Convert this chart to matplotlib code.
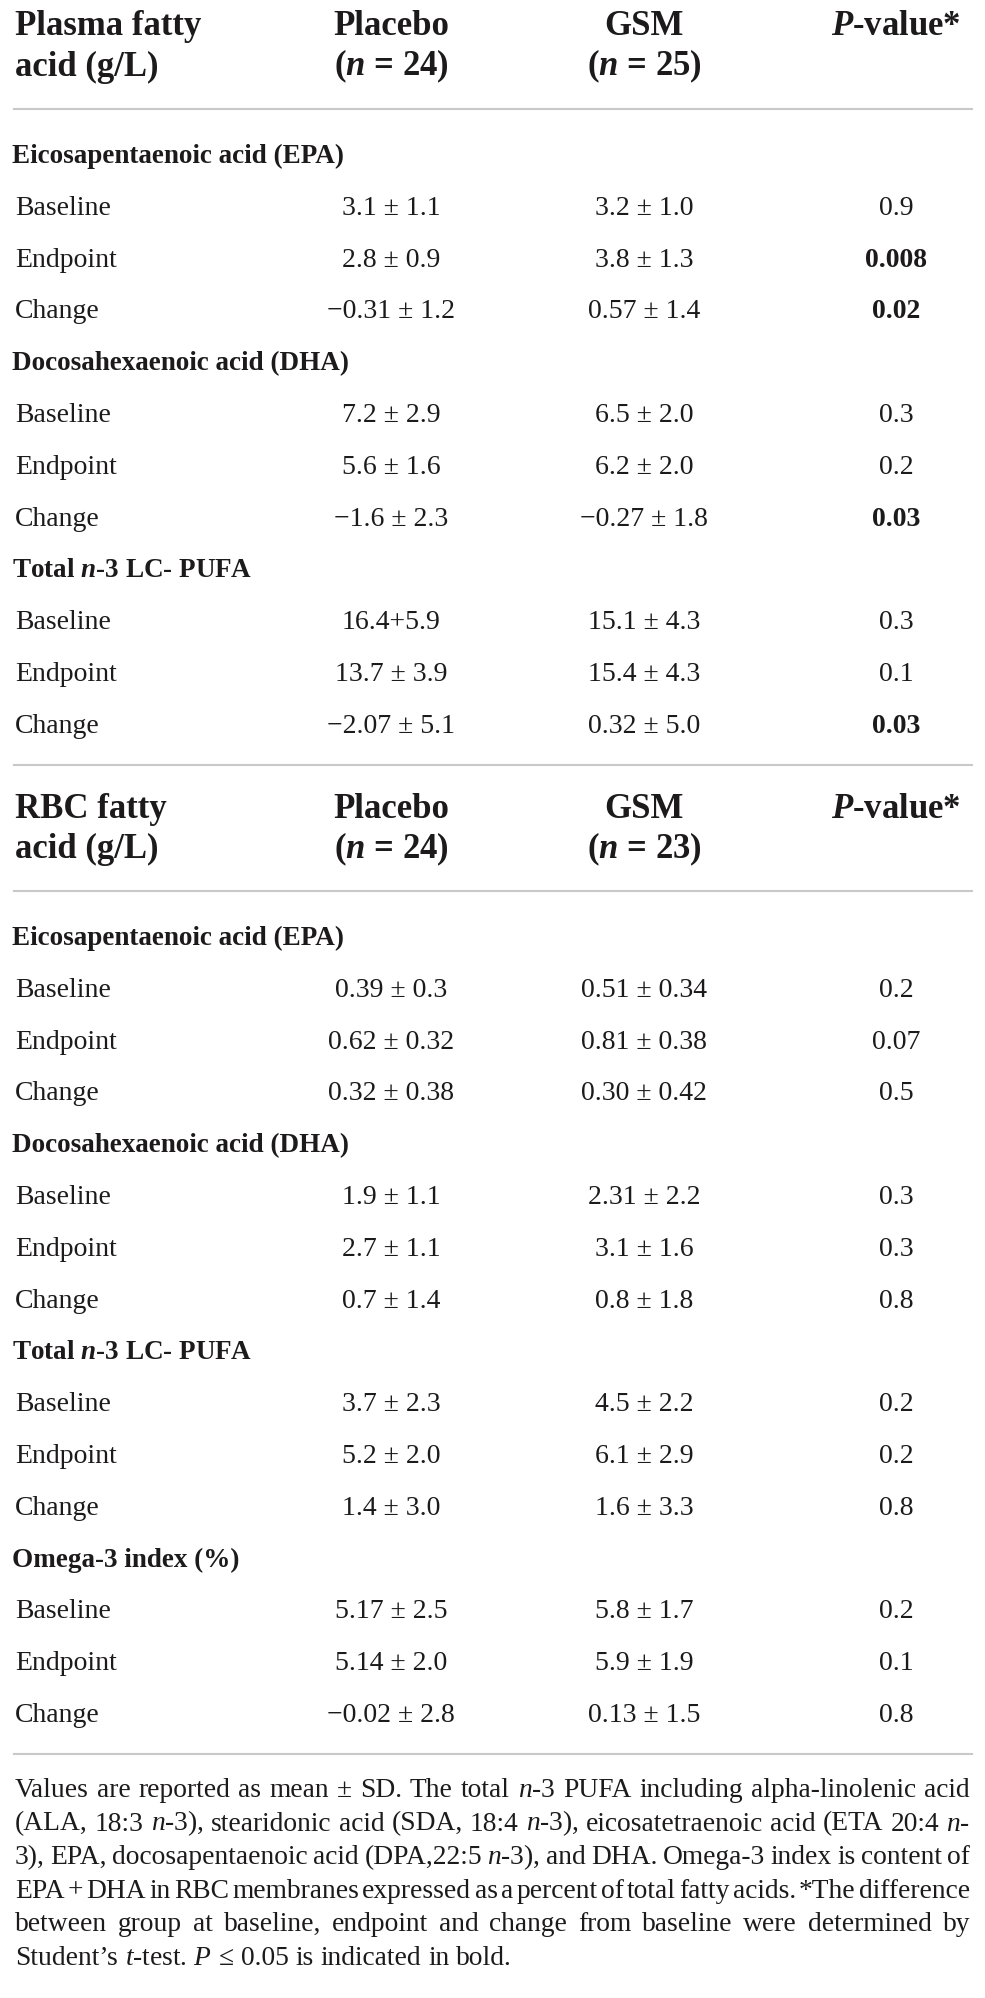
import matplotlib.pyplot as plt
from matplotlib.lines import Line2D

plt.rcParams['font.family'] = ['Liberation Serif', 'DejaVu Serif']
plt.rcParams['mathtext.fontset'] = 'custom'
plt.rcParams['mathtext.rm'] = 'Liberation Serif'
plt.rcParams['mathtext.it'] = 'Liberation Serif:italic'
plt.rcParams['mathtext.bf'] = 'Liberation Serif:bold'
plt.rcParams['mathtext.bfit'] = 'Liberation Serif:bold:italic'

# ---- data ----
measures = ["Baseline", "Endpoint", "Change"]

plasma_title = ["Plasma fatty", "acid (g/L)"]
plasma_n = [24, 25]
plasma_groups = ["Eicosapentaenoic acid (EPA)", "Docosahexaenoic acid (DHA)",
                 r"Total $\mathbfit{n}$-3 LC- PUFA"]
plasma_placebo = [["3.1 ± 1.1", "2.8 ± 0.9", "−0.31 ± 1.2"],
                  ["7.2 ± 2.9", "5.6 ± 1.6", "−1.6 ± 2.3"],
                  ["16.4+5.9", "13.7 ± 3.9", "−2.07 ± 5.1"]]
plasma_gsm = [["3.2 ± 1.0", "3.8 ± 1.3", "0.57 ± 1.4"],
              ["6.5 ± 2.0", "6.2 ± 2.0", "−0.27 ± 1.8"],
              ["15.1 ± 4.3", "15.4 ± 4.3", "0.32 ± 5.0"]]
plasma_p = [["0.9", "0.008", "0.02"],
            ["0.3", "0.2", "0.03"],
            ["0.3", "0.1", "0.03"]]

rbc_title = ["RBC fatty", "acid (g/L)"]
rbc_n = [24, 23]
rbc_groups = ["Eicosapentaenoic acid (EPA)", "Docosahexaenoic acid (DHA)",
              r"Total $\mathbfit{n}$-3 LC- PUFA", "Omega-3 index (%)"]
rbc_placebo = [["0.39 ± 0.3", "0.62 ± 0.32", "0.32 ± 0.38"],
               ["1.9 ± 1.1", "2.7 ± 1.1", "0.7 ± 1.4"],
               ["3.7 ± 2.3", "5.2 ± 2.0", "1.4 ± 3.0"],
               ["5.17 ± 2.5", "5.14 ± 2.0", "−0.02 ± 2.8"]]
rbc_gsm = [["0.51 ± 0.34", "0.81 ± 0.38", "0.30 ± 0.42"],
           ["2.31 ± 2.2", "3.1 ± 1.6", "0.8 ± 1.8"],
           ["4.5 ± 2.2", "6.1 ± 2.9", "1.6 ± 3.3"],
           ["5.8 ± 1.7", "5.9 ± 1.9", "0.13 ± 1.5"]]
rbc_p = [["0.2", "0.07", "0.5"],
         ["0.3", "0.3", "0.8"],
         ["0.2", "0.2", "0.8"],
         ["0.2", "0.1", "0.8"]]

footnote_lines = [
    r"Values are reported as mean ± SD. The total $\mathit{n}$-3 PUFA including alpha-linolenic acid",
    r"(ALA, 18:3 $\mathit{n}$-3), stearidonic acid (SDA, 18:4 $\mathit{n}$-3), eicosatetraenoic acid (ETA 20:4 $\mathit{n}$-",
    r"3), EPA, docosapentaenoic acid (DPA,22:5 $\mathit{n}$-3), and DHA. Omega-3 index is content of",
    r"EPA + DHA in RBC membranes expressed as a percent of total fatty acids. *The difference",
    r"between group at baseline, endpoint and change from baseline were determined by",
    r"Student’s $\mathit{t}$-test. $\mathit{P}$ ≤ 0.05 is indicated in bold.",
]

# ---- layout (pixels) ----
W, H = 985, 1998
ink = '#1c1a1b'
rule = '#c9c9c9'
col_x = [391, 644, 896]
x_lab = 15
x_grp = 12
pitch = 51.8
fs_head = 25
fs_body = 20

fig = plt.figure(figsize=(W / 100, H / 100), dpi=100)
ax = fig.add_axes([0, 0, 1, 1])
ax.set_xlim(0, W)
ax.set_ylim(H, 0)
ax.axis('off')


def hline(y):
    ax.add_line(Line2D([14, 972], [y, y], color=rule, lw=1.5))


def section(top, title, n, groups, placebo, gsm, pvals, first_row):
    y1, y2 = top, top + 40.5
    ax.text(x_lab, y1, title[0], fontsize=fs_head, fontweight='bold', color=ink, va='baseline')
    ax.text(x_lab, y2, title[1], fontsize=fs_head, fontweight='bold', color=ink, va='baseline')
    for cx, name, k in zip(col_x[:2], ["Placebo", "GSM"], n):
        ax.text(cx, y1, name, fontsize=fs_head, fontweight='bold', color=ink,
                ha='center', va='baseline')
        ax.text(cx, y2, r"($\mathbfit{n}$ = %d)" % k, fontsize=fs_head, fontweight='bold',
                color=ink, ha='center', va='baseline')
    ax.text(col_x[2], y1, r"$\mathbfit{P}$-value*", fontsize=fs_head, fontweight='bold',
            color=ink, ha='center', va='baseline')
    hline(y2 + 33)
    y = first_row
    for g, grp in enumerate(groups):
        ax.text(x_grp, y, grp, fontsize=fs_body - 0.5, fontweight='bold', color=ink,
                va='baseline')
        y += pitch
        for m, meas in enumerate(measures):
            ax.text(x_lab, y, meas, fontsize=fs_body, color=ink, va='baseline')
            ax.text(col_x[0], y, placebo[g][m], fontsize=fs_body, color=ink,
                    ha='center', va='baseline')
            ax.text(col_x[1], y, gsm[g][m], fontsize=fs_body, color=ink,
                    ha='center', va='baseline')
            bold = float(pvals[g][m]) <= 0.05
            ax.text(col_x[2], y, pvals[g][m], fontsize=fs_body, color=ink, ha='center',
                    va='baseline', fontweight='bold' if bold else 'normal')
            y += pitch
    return y - pitch


last = section(35, plasma_title, plasma_n, plasma_groups, plasma_placebo, plasma_gsm,
               plasma_p, 163)
hline(last + 32)
last = section(last + 85, rbc_title, rbc_n, rbc_groups, rbc_placebo, rbc_gsm, rbc_p, 945)
hline(last + 32)

# ---- justified footnote ----
renderer = fig.canvas.get_renderer()


def width_of(s, fs):
    t = ax.text(0, 0, s, fontsize=fs)
    w = t.get_window_extent(renderer).width
    t.remove()
    return w


left, right = 15, 970
# biggest size at which every justified line still fits with somewhat tight spacing
base = 10.0
base_space = width_of("x x", base) - 2 * width_of("x", base)
fits = []
for line in footnote_lines[:-1]:
    words = line.split(" ")
    natural = sum(width_of(w, base) for w in words) + 0.45 * base_space * (len(words) - 1)
    fits.append(base * (right - left) / natural)
fs_note = min(min(fits), 20.0)

space = width_of("x x", fs_note) - 2 * width_of("x", fs_note)
y = last + 75
for i, line in enumerate(footnote_lines):
    words = line.split(" ")
    widths = [width_of(w, fs_note) for w in words]
    if i < len(footnote_lines) - 1:
        gap = (right - left - sum(widths)) / (len(words) - 1)
    else:
        gap = space
    x = left
    for w, wd in zip(words, widths):
        ax.text(x, y, w, fontsize=fs_note, color=ink, va='baseline')
        x += wd + gap
    y += 33.6

fig.savefig('out.png', dpi=100)
